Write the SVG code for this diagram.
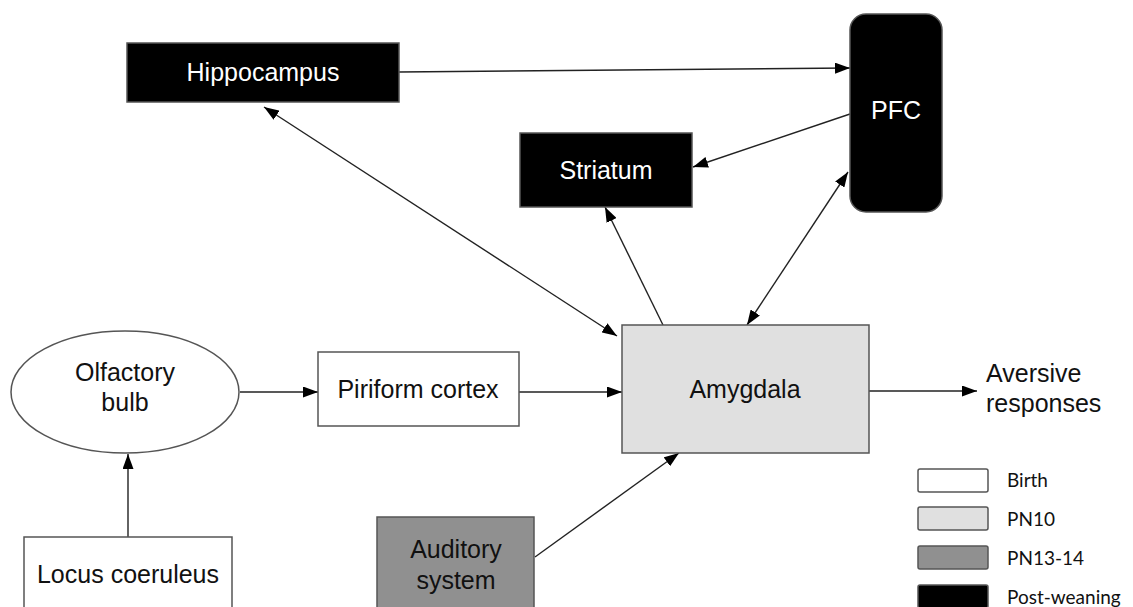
<svg xmlns="http://www.w3.org/2000/svg" width="1133" height="607" viewBox="0 0 1133 607">
<style>
.box{stroke:#555;stroke-width:1.5}
.w{fill:#fff}
.lg{fill:#e0e0e0}
.dg{fill:#909090}
.bk{fill:#000}
.t{font-family:"Liberation Sans",Arial,sans-serif;font-size:25px;text-anchor:middle;fill:#111}
.tw{fill:#fff}
.st{text-anchor:start}
.leg{font-family:Lato,"Open Sans",sans-serif;font-size:19px;fill:#111}
.c{stroke:#222;stroke-width:1.4;fill:none}
</style>
<defs>
<marker id="ah" viewBox="0 0 15 11" refX="15" refY="5.5" markerWidth="15" markerHeight="11" markerUnits="userSpaceOnUse" orient="auto-start-reverse">
<path d="M0,0 L15,5.5 L0,11 Z" fill="#000"/>
</marker>
</defs>
<g id="connectors">
<line class="c" x1="399" y1="72" x2="850" y2="68" marker-end="url(#ah)"/>
<line class="c" x1="850" y1="114" x2="693" y2="167" marker-end="url(#ah)"/>
<line class="c" x1="264" y1="107" x2="617" y2="336" marker-start="url(#ah)" marker-end="url(#ah)"/>
<line class="c" x1="663" y1="325" x2="605" y2="207" marker-end="url(#ah)"/>
<line class="c" x1="747" y1="325" x2="848" y2="172" marker-start="url(#ah)" marker-end="url(#ah)"/>
<line class="c" x1="240" y1="392" x2="318" y2="392" marker-end="url(#ah)"/>
<line class="c" x1="519" y1="392" x2="622" y2="392" marker-end="url(#ah)"/>
<line class="c" x1="128" y1="537" x2="128" y2="454" marker-end="url(#ah)"/>
<line class="c" x1="535" y1="557" x2="679" y2="453" marker-end="url(#ah)"/>
<line class="c" x1="869" y1="391" x2="977" y2="391" marker-end="url(#ah)"/>
</g>
<g id="hippocampus">
<rect class="box bk" x="127" y="43" width="272" height="59"/>
<text class="t tw" x="263" y="81">Hippocampus</text>
</g>
<g id="pfc">
<rect class="box bk" x="850" y="14" width="92" height="198" rx="16"/>
<text class="t tw" x="896" y="119">PFC</text>
</g>
<g id="striatum">
<rect class="box bk" x="520" y="133" width="172" height="74"/>
<text class="t tw" x="606" y="179">Striatum</text>
</g>
<g id="amygdala">
<rect class="box lg" x="622" y="325" width="247" height="128"/>
<text class="t" x="745" y="398">Amygdala</text>
</g>
<g id="olfactory">
<ellipse class="box w" cx="125" cy="392" rx="114" ry="61"/>
<text class="t" x="125" y="381">Olfactory</text>
<text class="t" x="125" y="411">bulb</text>
</g>
<g id="piriform">
<rect class="box w" x="318" y="352" width="201" height="74"/>
<text class="t" x="418" y="398">Piriform cortex</text>
</g>
<g id="locus">
<rect class="box w" x="24" y="537" width="208" height="80"/>
<text class="t" x="128" y="583">Locus coeruleus</text>
</g>
<g id="auditory">
<rect class="box dg" x="377" y="517" width="157" height="100"/>
<text class="t" x="456" y="558">Auditory</text>
<text class="t" x="456" y="589">system</text>
</g>
<g id="aversive">
<text class="t st" x="986" y="382">Aversive</text>
<text class="t st" x="986" y="412">responses</text>
</g>
<g id="legend">
<rect class="box w" x="918" y="469" width="70" height="23" rx="2"/>
<rect class="box lg" x="918" y="507" width="70" height="23" rx="2"/>
<rect class="box dg" x="918" y="546" width="70" height="23" rx="2"/>
<rect class="box bk" x="918" y="585" width="70" height="23" rx="2"/>
<text class="leg" x="1007" y="487">Birth</text>
<text class="leg" x="1007" y="526">PN10</text>
<text class="leg" x="1007" y="565">PN13-14</text>
<text class="leg" x="1007" y="604">Post-weaning</text>
</g>
</svg>
